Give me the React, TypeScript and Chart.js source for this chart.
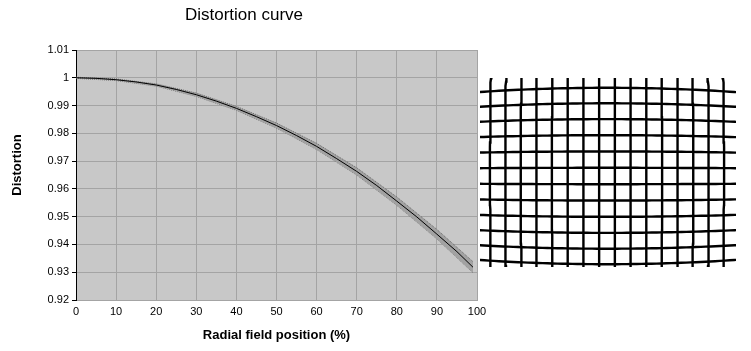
import React, { useEffect, useRef } from "react";
import { Chart, registerables } from "chart.js";

Chart.register(...registerables);

// ---- Data ----
const fieldPositions = [0, 5, 10, 15, 20, 25, 30, 35, 40, 45, 50, 55, 60, 65, 70, 75, 80, 85, 90, 95, 99];
const distortionValues = [
  1.0, 0.9998, 0.9993, 0.9985, 0.9974, 0.9958, 0.9939, 0.9916, 0.989, 0.986, 0.9828,
  0.9792, 0.9753, 0.9709, 0.9663, 0.9612, 0.9556, 0.9499, 0.9437, 0.9374, 0.9318,
];
const bandPositions = [0, 10, 20, 30, 40, 50, 60, 70, 80, 90, 99];
const bandUpper = [1.0002, 0.9996, 0.9978, 0.9945, 0.9897, 0.9837, 0.9764, 0.9676, 0.9571, 0.9454, 0.9338];
const bandLower = [0.9998, 0.999, 0.997, 0.9933, 0.9883, 0.9819, 0.9742, 0.965, 0.9541, 0.942, 0.9298];

const xMin = 0;
const xMax = 100;
const xStep = 10;
const yMin = 0.92;
const yMax = 1.01;
const yStep = 0.01;

const chartTitle = "Distortion curve";
const xTitle = "Radial field position (%)";
const yTitle = "Distortion";

// grid illustration: number of lines
const gridColumns = 16;
const gridRows = 12;

const FONT = '"Liberation Sans", Arial, Helvetica, sans-serif';

function distortionAt(r: number): number {
  const n = fieldPositions.length;
  if (r <= fieldPositions[0]) return distortionValues[0];
  if (r >= fieldPositions[n - 1]) {
    const slope =
      (distortionValues[n - 1] - distortionValues[n - 2]) / (fieldPositions[n - 1] - fieldPositions[n - 2]);
    return distortionValues[n - 1] + slope * (r - fieldPositions[n - 1]);
  }
  for (let i = 0; i < n - 1; i++) {
    if (r >= fieldPositions[i] && r <= fieldPositions[i + 1]) {
      const t = (r - fieldPositions[i]) / (fieldPositions[i + 1] - fieldPositions[i]);
      return distortionValues[i] + t * (distortionValues[i + 1] - distortionValues[i]);
    }
  }
  return 1;
}

export default function App() {
  const mainRef = useRef<HTMLCanvasElement | null>(null);
  const gridRef = useRef<HTMLCanvasElement | null>(null);

  useEffect(() => {
    if (!mainRef.current || !gridRef.current) return;

    const plotBg = {
      id: "plotBg",
      beforeDraw(chart: any) {
        const { ctx, chartArea } = chart;
        ctx.save();
        ctx.fillStyle = "#C8C8C8";
        ctx.fillRect(chartArea.left, chartArea.top, chartArea.width, chartArea.height);
        ctx.restore();
      },
    };
    const yTitlePlugin = {
      id: "yTitle",
      afterDraw(chart: any) {
        const { ctx } = chart;
        ctx.save();
        ctx.translate(17, 165);
        ctx.rotate(-Math.PI / 2);
        ctx.font = `bold 13px ${FONT}`;
        ctx.textAlign = "center";
        ctx.textBaseline = "middle";
        ctx.fillStyle = "#000";
        ctx.fillText(yTitle, 0, 0);
        ctx.restore();
      },
    };

    const main = new Chart(mainRef.current, {
      type: "line",
      data: {
        datasets: [
          {
            label: "upper",
            data: bandPositions.map((x, i) => ({ x, y: bandUpper[i] })),
            borderColor: "#6A6A6A",
            borderWidth: 1,
            borderDash: [1, 1],
            backgroundColor: "#A2A2A2",
            fill: "+1",
            pointRadius: 0,
            order: 2,
          },
          {
            label: "lower",
            data: bandPositions.map((x, i) => ({ x, y: bandLower[i] })),
            borderColor: "#6A6A6A",
            borderWidth: 1,
            borderDash: [1, 1],
            fill: false,
            pointRadius: 0,
            order: 2,
          },
          {
            label: "Distortion",
            data: fieldPositions.map((x, i) => ({ x, y: distortionValues[i] })),
            borderColor: "#000000",
            borderWidth: 1,
            fill: false,
            pointRadius: 0,
            order: 0,
          },
        ],
      },
      options: {
        responsive: false,
        animation: false,
        devicePixelRatio: 1,
        layout: { padding: { left: 11, right: 11, top: 0, bottom: 0 } },
        plugins: {
          legend: { display: false },
          tooltip: { enabled: false },
          title: {
            display: true,
            text: chartTitle,
            color: "#000",
            font: { family: FONT, size: 17, weight: "normal" },
            padding: { top: 5, bottom: 24.6 },
          },
        },
        scales: {
          x: {
            type: "linear",
            min: xMin,
            max: xMax,
            ticks: {
              stepSize: xStep,
              color: "#000",
              font: { family: FONT, size: 11 },
              padding: 0,
              maxRotation: 0,
            },
            grid: { color: "#A4A4A4", tickLength: 5, tickColor: "rgba(0,0,0,0)" },
            border: { color: "#A4A4A4" },
            title: {
              display: true,
              text: xTitle,
              color: "#000",
              font: { family: FONT, size: 13, weight: "bold" },
              padding: { top: 0, bottom: 8 },
            },
            afterFit: (s: any) => {
              s.height = 51;
            },
          },
          y: {
            type: "linear",
            min: yMin,
            max: yMax,
            ticks: {
              stepSize: yStep,
              color: "#000",
              font: { family: FONT, size: 11 },
              padding: 3,
              callback: (v: any) => String(Number(Number(v).toFixed(2))),
            },
            grid: { color: "#A4A4A4", tickColor: "#000", tickLength: 4 },
            border: { color: "#000" },
            afterFit: (s: any) => {
              s.width = 65;
            },
          },
        },
      },
      plugins: [plotBg, yTitlePlugin],
    } as any);

    // Distorted grid illustration, drawn with the distortion curve above
    const spacingX = 15.8;
    const spacingY = 16.4;
    const radius = 159;
    const distort = (ux: number, uy: number) => {
      const r = (100 * Math.sqrt(ux * ux + uy * uy)) / radius;
      const d = distortionAt(r);
      return { x: ux * Math.pow(d, 0.3), y: uy * d };
    };
    const gridSets: any[] = [];
    for (let k = 0; k < gridRows; k++) {
      const uy = (k - (gridRows - 1) / 2) * spacingY;
      const pts = [];
      for (let ux = -150; ux <= 150; ux += 5) pts.push(distort(ux, uy));
      gridSets.push({ data: pts, borderColor: "#000", borderWidth: 2.4, pointRadius: 0, showLine: true, fill: false });
    }
    for (let j = 0; j < gridColumns; j++) {
      const ux = (j - (gridColumns - 1) / 2) * spacingX;
      const pts = [];
      for (let uy = -130; uy <= 130; uy += 5) pts.push(distort(ux, uy));
      gridSets.push({ data: pts, borderColor: "#000", borderWidth: 2.4, pointRadius: 0, showLine: true, fill: false });
    }
    const grid = new Chart(gridRef.current, {
      type: "scatter",
      data: { datasets: gridSets },
      options: {
        responsive: false,
        animation: false,
        devicePixelRatio: 1,
        layout: { padding: 0 },
        plugins: { legend: { display: false }, tooltip: { enabled: false } },
        scales: {
          x: { type: "linear", min: -127, max: 129, display: false },
          y: { type: "linear", min: -91, max: 98, display: false },
        },
      },
    } as any);

    return () => {
      main.destroy();
      grid.destroy();
    };
  }, []);

  return (
    <div style={{ position: "absolute", left: 0, top: 0, width: 751, height: 351, background: "#fff" }}>
      <canvas ref={mainRef} width={488} height={351} style={{ position: "absolute", left: 0, top: 0 }} />
      <canvas ref={gridRef} width={256} height={189} style={{ position: "absolute", left: 480, top: 78 }} />
    </div>
  );
}
